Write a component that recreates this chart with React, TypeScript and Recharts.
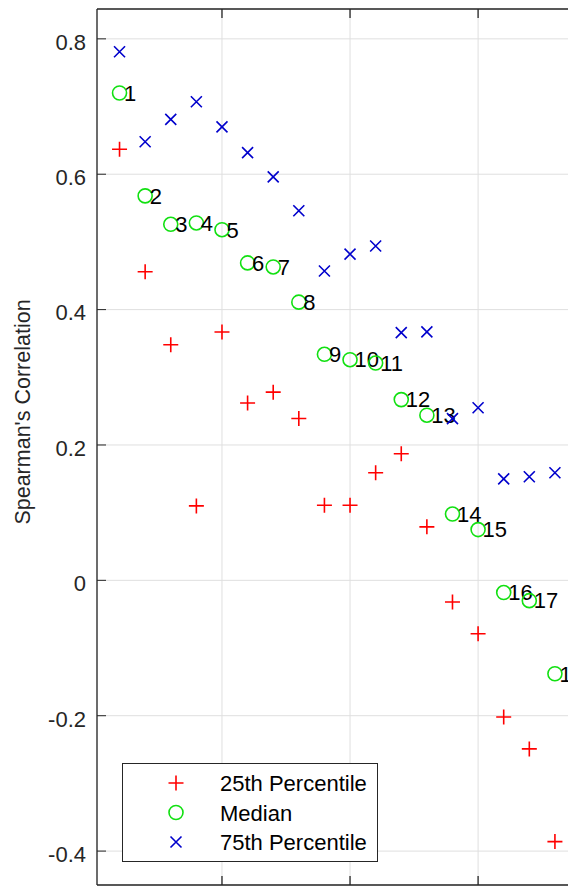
import React from 'react';
import { ScatterChart, Scatter, XAxis, YAxis, CartesianGrid, Legend } from 'recharts';

const indices = [1, 2, 3, 4, 5, 6, 7, 8, 9, 10, 11, 12, 13, 14, 15, 16, 17, 18];
const p25 = [0.637, 0.456, 0.348, 0.110, 0.367, 0.262, 0.278, 0.239, 0.111, 0.111, 0.159, 0.187, 0.079, -0.032, -0.079, -0.202, -0.249, -0.386];
const median = [0.720, 0.568, 0.526, 0.528, 0.518, 0.469, 0.463, 0.411, 0.334, 0.326, 0.321, 0.267, 0.244, 0.098, 0.075, -0.018, -0.030, -0.138];
const p75 = [0.781, 0.648, 0.681, 0.707, 0.670, 0.632, 0.596, 0.546, 0.457, 0.482, 0.494, 0.366, 0.367, 0.239, 0.255, 0.150, 0.153, 0.159];
const pointLabels = indices.map((n) => String(n));
const seriesNames = ['25th Percentile', 'Median', '75th Percentile'];
const yTicks = [-0.4, -0.2, 0, 0.2, 0.4, 0.6, 0.8];
const yTickLabels = ['-0.4', '-0.2', '0', '0.2', '0.4', '0.6', '0.8'];
const xTicks = [5, 10, 15];
const xDomain = [0.12, 18.94];
const yDomain = [-0.4501, 0.8441];

const FONT = "'Liberation Sans', Arial, Helvetica, sans-serif";
const AXIS = '#262626';
const RED = '#ff0000';
const GREEN = '#11e011';
const BLUE = '#0000cc';

const d25 = indices.map((x, i) => ({ x, y: p25[i] }));
const dMed = indices.map((x, i) => ({ x, y: median[i], label: pointLabels[i] }));
const d75 = indices.map((x, i) => ({ x, y: p75[i] }));

function PlusMark({ cx, cy }: any) {
  const h = 7.5;
  return <path d={`M${cx - h},${cy}H${cx + h}M${cx},${cy - h}V${cy + h}`} stroke={RED} strokeWidth={1.6} fill="none" />;
}
function CrossMark({ cx, cy }: any) {
  const h = 5.5;
  return (
    <path
      d={`M${cx - h},${cy - h}L${cx + h},${cy + h}M${cx - h},${cy + h}L${cx + h},${cy - h}`}
      stroke={BLUE}
      strokeWidth={1.6}
      fill="none"
    />
  );
}
function CircleMark({ cx, cy, payload }: any) {
  return (
    <g>
      <circle cx={cx} cy={cy} r={7} stroke={GREEN} strokeWidth={1.6} fill="none" />
      {payload && payload.label ? (
        <text x={cx + 4.5} y={cy + 7.8} fontSize={22} fontFamily={FONT} fill="#000">
          {payload.label}
        </text>
      ) : null}
    </g>
  );
}

function LeftTick({ x, y, payload }: any) {
  const idx = yTicks.indexOf(payload.value);
  const label = idx >= 0 ? yTickLabels[idx] : String(payload.value);
  return (
    <g>
      <line x1={x} y1={y} x2={x + 9} y2={y} stroke={AXIS} strokeWidth={1} />
      <text x={x - 11} y={y + 10.8} textAnchor="end" fontSize={22} fontFamily={FONT} fill={AXIS}>
        {label}
      </text>
    </g>
  );
}

function LegendBox() {
  const marks = [
    (cx: number, cy: number) => <PlusMark cx={cx} cy={cy} />,
    (cx: number, cy: number) => <circle cx={cx} cy={cy} r={7} stroke={GREEN} strokeWidth={1.6} fill="none" />,
    (cx: number, cy: number) => <CrossMark cx={cx} cy={cy} />,
  ];
  return (
    <svg width={256} height={99} style={{ display: 'block' }}>
      <rect x={0.5} y={0.5} width={255} height={98} fill="#fff" stroke={AXIS} strokeWidth={1} />
      {seriesNames.map((name, i) => {
        const cy = 20 + i * 29.5;
        return (
          <g key={name}>
            {marks[i](54, cy)}
            <text x={98} y={cy + 8} fontSize={22} fontFamily={FONT} fill="#000">
              {name}
            </text>
          </g>
        );
      })}
    </svg>
  );
}

export default function App() {
  return (
    <div style={{ width: 560, height: 880, overflow: 'hidden', position: 'relative', background: '#fff' }}>
      <ScatterChart width={600} height={880} margin={{ top: 1, right: 29, bottom: 3, left: 0 }}>
        <CartesianGrid stroke="#dfdfdf" strokeWidth={1} />
        <XAxis
          xAxisId={0}
          type="number"
          dataKey="x"
          domain={xDomain}
          ticks={xTicks}
          allowDataOverflow
          orientation="bottom"
          height={1}
          mirror
          tickSize={9}
          tickFormatter={() => ''}
          stroke={AXIS}
          strokeWidth={1.3}
          tickLine={{ stroke: AXIS }}
        />
        <XAxis
          xAxisId="top"
          type="number"
          dataKey="x"
          domain={xDomain}
          ticks={xTicks}
          allowDataOverflow
          orientation="top"
          height={1}
          mirror
          tickSize={9}
          tickFormatter={() => ''}
          stroke={AXIS}
          strokeWidth={1.3}
          tickLine={{ stroke: AXIS }}
        />
        <YAxis
          yAxisId={0}
          type="number"
          dataKey="y"
          domain={yDomain}
          ticks={yTicks}
          allowDataOverflow
          width={89}
          tickSize={0}
          tickMargin={0}
          tickLine={false}
          tick={<LeftTick />}
          stroke={AXIS}
          strokeWidth={1.3}
          label={{
            value: "Spearman's Correlation",
            angle: -90,
            position: 'insideLeft',
            content: () => (
              <text
                x={22}
                y={404}
                transform="rotate(-90, 22, 404)"
                textAnchor="middle"
                fontSize={21.5}
                fontFamily={FONT}
                fill={AXIS}
              >
                Spearman's Correlation
              </text>
            ),
          }}
        />
        <YAxis
          yAxisId="right"
          type="number"
          dataKey="y"
          domain={yDomain}
          ticks={yTicks}
          allowDataOverflow
          orientation="right"
          width={1}
          mirror
          tickSize={9}
          tickFormatter={() => ''}
          stroke={AXIS}
          tickLine={{ stroke: AXIS }}
        />
        <Legend
          layout="horizontal"
          verticalAlign="middle"
          align="center"
          content={() => <LegendBox />}
          wrapperStyle={{ position: 'absolute', left: 114, top: 755, width: 256, height: 99, margin: 0 }}
        />
        <Scatter name={seriesNames[0]} data={d25} shape={<PlusMark />} isAnimationActive={false} />
        <Scatter name={seriesNames[1]} data={dMed} shape={<CircleMark />} isAnimationActive={false} />
        <Scatter name={seriesNames[2]} data={d75} shape={<CrossMark />} isAnimationActive={false} />
      </ScatterChart>
    </div>
  );
}
